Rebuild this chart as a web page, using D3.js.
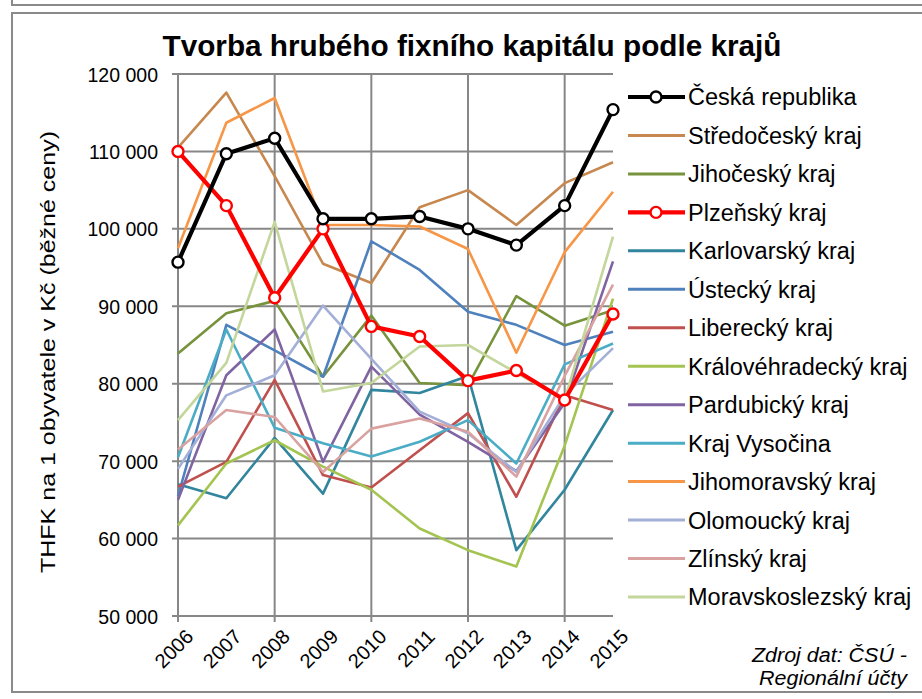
<!DOCTYPE html>
<html><head><meta charset="utf-8">
<script src="https://cdn.jsdelivr.net/npm/d3@7"></script>
<style>
html,body{margin:0;padding:0;background:#fff;}
svg{display:block;font-family:"Liberation Sans",Arial,sans-serif;}
</style></head>
<body>
<svg id="chart" width="922" height="699"></svg>
<script>
// ---- data ----
const years = [2006, 2007, 2008, 2009, 2010, 2011, 2012, 2013, 2014, 2015];
const yTicks = [50000, 60000, 70000, 80000, 90000, 100000, 110000, 120000];

const ceskaRepublika   = [95700, 109700, 111700, 101300, 101300, 101600, 100000, 97900, 103000, 115400];
const stredocesky      = [110500, 117600, 106800, 95500, 93000, 102800, 105000, 100500, 105900, 108600];
const jihocesky        = [83900, 89100, 90700, 80900, 88800, 80100, 79800, 91300, 87500, 89500];
const plzensky         = [110000, 103000, 91100, 100000, 87400, 86100, 80400, 81700, 77900, 89000];
const karlovarsky      = [67000, 65200, 73000, 65800, 79200, 78800, 81000, 58500, 66300, 76600];
const ustecky          = [65500, 87600, 84300, 80900, 98400, 94700, 89300, 87600, 85000, 86700];
const liberecky        = [66700, 69900, 80500, 68200, 66600, 71400, 76200, 65400, 78500, 76600];
const kralovehradecky  = [61700, 69700, 72700, 69300, 66300, 61300, 58500, 56400, 72000, 91000];
const pardubicky       = [65000, 81100, 87000, 69900, 82200, 76000, 72500, 68700, 77500, 95800];
const vysocina         = [70500, 87000, 74300, 72300, 70600, 72500, 75300, 69700, 82500, 85200];
const jihomoravsky     = [97500, 113700, 116900, 100500, 100500, 100300, 97400, 84000, 97000, 104800];
const olomoucky        = [69000, 78500, 81100, 90100, 83200, 76400, 73600, 68600, 78500, 84600];
const zlinsky          = [71500, 76600, 75700, 68600, 74200, 75500, 73800, 68000, 81000, 92800];
const moravskoslezsky  = [75300, 82700, 100900, 79000, 80100, 84800, 85000, 81400, 77900, 99000];

const seriesNames = ["Česká republika","Středočeský kraj","Jihočeský kraj","Plzeňský kraj","Karlovarský kraj","Ústecký kraj","Liberecký kraj","Královéhradecký kraj","Pardubický kraj","Kraj Vysočina","Jihomoravský kraj","Olomoucký kraj","Zlínský kraj","Moravskoslezský kraj"];
const seriesValues = [ceskaRepublika, stredocesky, jihocesky, plzensky, karlovarsky, ustecky, liberecky, kralovehradecky, pardubicky, vysocina, jihomoravsky, olomoucky, zlinsky, moravskoslezsky];
const seriesColors = ["#000000","#C6884F","#77933C","#FF0000","#31859C","#4F81BD","#C0504D","#A4C451","#8064A2","#4BACC6","#F79646","#A3AFD6","#D9A2A0","#C3D69B"];

const titleText = "Tvorba hrubého fixního kapitálu podle krajů";
const yTitleText = "THFK na 1 obyvatele v Kč (běžné ceny)";
const sourceLines = ["Zdroj dat: ČSÚ -", "Regionální účty"];

// ---- drawing ----
const svg = d3.select("#chart");
const x = d3.scaleLinear().domain([2006, 2015]).range([178, 613]);
const y = d3.scaleLinear().domain([50000, 120000]).range([616, 74]);
const grid = "#878787";

// frames
svg.append("path").attr("d","M12 0 V5 H922").attr("fill","none").attr("stroke","#8a8a8a").attr("stroke-width",2);
svg.append("rect").attr("x",12).attr("y",13).attr("width",922).attr("height",679)
  .attr("fill","none").attr("stroke","#8a8a8a").attr("stroke-width",2);

// title
svg.append("text").attr("x",472).attr("y",56).attr("text-anchor","middle")
  .attr("font-family","'Liberation Sans Narrow','Liberation Sans',Arial,sans-serif")
  .attr("font-weight","bold").attr("font-size",29).attr("fill","#000")
  .attr("textLength",619).attr("lengthAdjust","spacingAndGlyphs").text(titleText);

// horizontal gridlines
const gGrid = svg.append("g");
gGrid.selectAll("line.h").data(yTicks).join("line")
  .attr("x1", 172).attr("x2", x(2015)).attr("y1", d=>y(d)).attr("y2", d=>y(d))
  .attr("stroke", grid).attr("stroke-width", 2);
// vertical gridlines (every 2 years)
const vYears = years.filter(d => d % 2 === 0);
gGrid.selectAll("line.v").data(vYears).join("line")
  .attr("x1", d=>x(d)).attr("x2", d=>x(d)).attr("y1", y(120000)).attr("y2", y(50000)+6)
  .attr("stroke", grid).attr("stroke-width", 2);

// y axis labels
const fmt = d3.formatLocale({decimal:",", thousands:"\u00a0", grouping:[3], currency:["",""]}).format(",");
const yAxis = d3.axisLeft(y).tickValues(yTicks).tickSize(0).tickPadding(20).tickFormat(fmt);
const gy = svg.append("g").attr("transform","translate(178,0)").call(yAxis);
gy.select(".domain").remove();
gy.selectAll("text").attr("font-size",19.5).attr("fill","#000").attr("font-family","'Liberation Sans',Arial,sans-serif")
  .attr("dy","0.36em");

// x axis labels
const xAxis = d3.axisBottom(x).tickValues(years).tickSize(0).tickFormat(d3.format("d"));
const gx = svg.append("g").attr("transform","translate(0,616)").call(xAxis);
gx.select(".domain").remove();
gx.selectAll("text").attr("font-size",20).attr("fill","#000").attr("font-family","'Liberation Sans',Arial,sans-serif")
  .attr("text-anchor","end").attr("dy",null).attr("y",0)
  .attr("transform","translate(16,22) rotate(-45)");

// axis line
svg.append("line").attr("x1",178).attr("x2",178).attr("y1",y(120000)).attr("y2",y(50000))
  .attr("stroke",grid).attr("stroke-width",2);

// y title
svg.append("text").attr("transform","translate(55,352) rotate(-90)").attr("text-anchor","middle")
  .attr("font-size",21).attr("fill","#000").attr("textLength",442).attr("lengthAdjust","spacingAndGlyphs")
  .text(yTitleText);

// lines
const line = d3.line().x((d,i)=>x(years[i])).y(d=>y(d));
const order = [1,2,4,5,6,7,8,9,10,11,12,13,3,0];
const gLines = svg.append("g").attr("fill","none").attr("stroke-linejoin","round");
order.forEach(i => {
  const thick = (i===0 || i===3);
  gLines.append("path").datum(seriesValues[i]).attr("d", line)
    .attr("stroke", seriesColors[i]).attr("stroke-width", thick ? 4.2 : 2.6);
  if (thick) {
    gLines.append("g").selectAll("circle").data(seriesValues[i]).join("circle")
      .attr("cx",(d,k)=>x(years[k])).attr("cy",d=>y(d)).attr("r",5.5)
      .attr("fill","#fff").attr("stroke",seriesColors[i]).attr("stroke-width",2.4);
  }
});

// legend
const lg = svg.append("g");
seriesNames.forEach((name, i) => {
  const cy = 97 + i * 38.46;
  const thick = (i===0 || i===3);
  lg.append("line").attr("x1",628).attr("x2",685).attr("y1",cy).attr("y2",cy)
    .attr("stroke",seriesColors[i]).attr("stroke-width", thick ? 4.2 : 3);
  if (thick) lg.append("circle").attr("cx",656).attr("cy",cy).attr("r",5.5)
    .attr("fill","#fff").attr("stroke",seriesColors[i]).attr("stroke-width",2.4);
  lg.append("text").attr("x",688).attr("y",cy).attr("dy","0.36em")
    .attr("font-size",23.5).attr("fill","#000").text(name);
});

// source
sourceLines.forEach((t,i) => {
  svg.append("text").attr("x",907).attr("y",662 + i*23).attr("text-anchor","end")
    .attr("font-style","italic").attr("font-size",20).attr("fill","#000")
    .attr("textLength", i === 0 ? 155 : 148).attr("lengthAdjust","spacingAndGlyphs").text(t);
});
</script>
</body></html>
